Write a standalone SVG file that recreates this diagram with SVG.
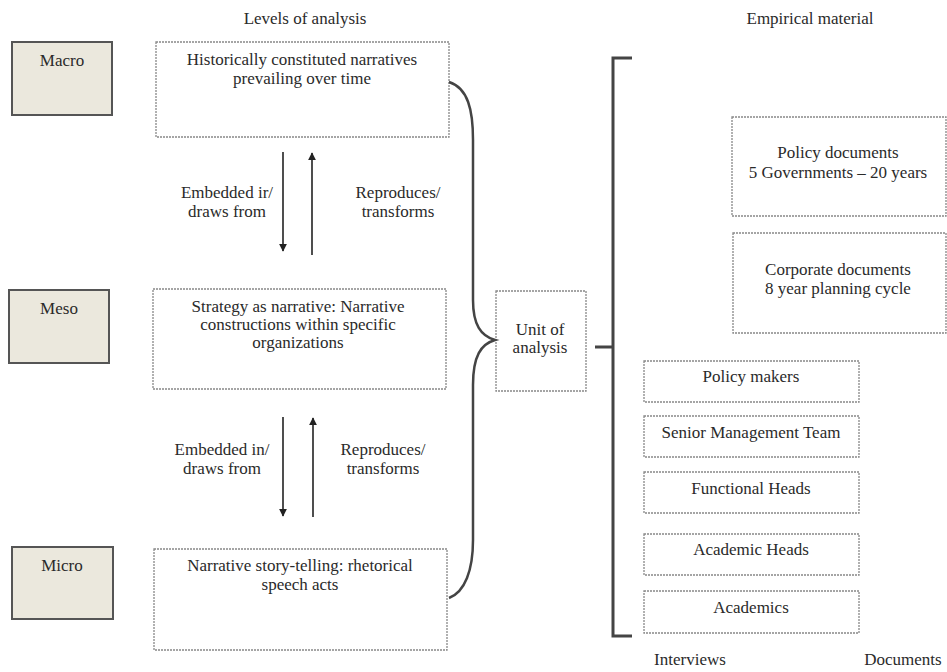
<svg xmlns="http://www.w3.org/2000/svg" width="947" height="672" viewBox="0 0 947 672" font-family="Liberation Serif, serif">
<defs>
<style>
text{font-family:'Liberation Serif',serif;font-size:17px;fill:#2a2a2a;text-anchor:middle}
.lvl{fill:#ebe8dd;stroke:#555;stroke-width:2}
.dbox{fill:#fff;stroke:#888;stroke-width:1.3;stroke-dasharray:2 1}
.arr{stroke:#222;stroke-width:1.6;fill:none}
.brace{stroke:#444;stroke-width:2.5;fill:none}
.brk{stroke:#444;stroke-width:3;fill:none}
</style>
<marker id="ah" viewBox="0 0 10 10" refX="9" refY="5" markerWidth="5" markerHeight="5" orient="auto">
<path d="M0,0 L10,5 L0,10 z" fill="#222"/>
</marker>
</defs>
<rect width="947" height="672" fill="#fff"/>
<text x="305" y="24">Levels of analysis</text>
<text x="810" y="24">Empirical material</text>

<g id="macro"><rect class="lvl" x="12" y="42" width="100" height="73"/><text x="62" y="66">Macro</text></g>
<g id="meso"><rect class="lvl" x="9" y="290" width="100" height="73"/><text x="59" y="314">Meso</text></g>
<g id="micro"><rect class="lvl" x="12" y="547" width="101" height="72"/><text x="62" y="571">Micro</text></g>

<g id="n-macro"><rect class="dbox" x="156" y="42" width="293" height="95"/><text x="302" y="65">Historically constituted narratives</text><text x="302" y="84">prevailing over time</text></g>
<g id="n-meso"><rect class="dbox" x="153" y="289" width="293" height="100"/><text x="298" y="312">Strategy as narrative: Narrative</text><text x="298" y="330">constructions within specific</text><text x="298" y="348">organizations</text></g>
<g id="n-micro"><rect class="dbox" x="154" y="549" width="293" height="101"/><text x="300" y="571">Narrative story-telling: rhetorical</text><text x="300" y="590">speech acts</text></g>

<g id="unit"><rect class="dbox" x="496" y="291" width="90" height="100"/><text x="540" y="335">Unit of</text><text x="540" y="353">analysis</text></g>

<g id="policy-docs"><rect class="dbox" x="732" y="117" width="214" height="99"/><text x="838" y="158">Policy documents</text><text x="838" y="178">5 Governments – 20 years</text></g>
<g id="corp-docs"><rect class="dbox" x="733" y="233" width="213" height="100"/><text x="838" y="275">Corporate documents</text><text x="838" y="294">8 year planning cycle</text></g>

<g id="policy-makers"><rect class="dbox" x="644" y="361" width="215" height="41"/><text x="751" y="382">Policy makers</text></g>
<g id="smt"><rect class="dbox" x="644" y="416" width="215" height="41"/><text x="751" y="438">Senior Management Team</text></g>
<g id="functional"><rect class="dbox" x="644" y="472" width="215" height="41"/><text x="751" y="494">Functional Heads</text></g>
<g id="acad-heads"><rect class="dbox" x="644" y="534" width="215" height="41"/><text x="751" y="555">Academic Heads</text></g>
<g id="academics"><rect class="dbox" x="644" y="591" width="215" height="42"/><text x="751" y="613">Academics</text></g>

<text x="690" y="665">Interviews</text>
<text x="903" y="665">Documents</text>

<g id="connectors">
<line class="arr" x1="283" y1="152" x2="283" y2="251" marker-end="url(#ah)"/>
<line class="arr" x1="312" y1="255" x2="312" y2="153" marker-end="url(#ah)"/>
<line class="arr" x1="283" y1="417" x2="283" y2="516" marker-end="url(#ah)"/>
<line class="arr" x1="313" y1="517" x2="313" y2="418" marker-end="url(#ah)"/>
<text x="227" y="198">Embedded ir/</text><text x="227" y="217">draws from</text>
<text x="398" y="198">Reproduces/</text><text x="398" y="217">transforms</text>
<text x="222" y="455">Embedded in/</text><text x="222" y="474">draws from</text>
<text x="383" y="455">Reproduces/</text><text x="383" y="474">transforms</text>
<path class="brace" d="M449,82 C468,88 473,110 473,140 L473,300 C473,325 481,336 495,340 C481,344 473,356 473,385 L473,540 C473,570 465,592 449,598"/>
<path class="brk" d="M632,58 L613,58 L613,636 L632,636 M595,347 L613,347"/>
</g>
</svg>
